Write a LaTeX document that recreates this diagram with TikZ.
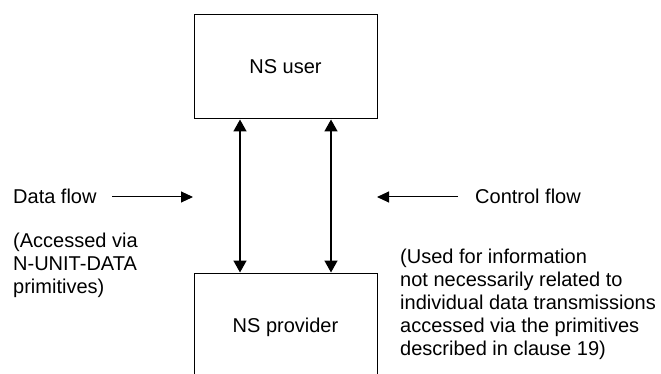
\documentclass[tikz,border=0pt]{standalone}
\usepackage{fontspec}
\setmainfont{Liberation Sans}
\usetikzlibrary{arrows.meta}
\begin{document}
\begin{tikzpicture}[x=1pt,y=-1pt,
  box/.style={draw, line width=1pt, minimum width=183pt, minimum height=104pt, inner sep=0pt, text depth=0pt, font=\fontsize{20}{23}\selectfont},
  varrow/.style={line width=1.7pt, {Triangle[width=13pt,length=12pt]}-{Triangle[width=13pt,length=12pt]}},
  harrow/.style={line width=1pt, -{Triangle[width=11pt,length=12pt]}},
  lbl/.style={inner sep=0pt, anchor=base west, align=left, font=\fontsize{20}{23}\selectfont}]
\useasboundingbox (0,0) rectangle (661,374);
\clip (0,0) rectangle (661,374);
\node[box] (user) at (285.5,67) {NS user};
\node[box] (prov) at (285.5,325) {NS provider};
\draw[varrow] ([xshift=-45.5pt]user.south) -- ([xshift=-45.5pt]prov.north);
\draw[varrow] ([xshift=45.5pt]user.south) -- ([xshift=45.5pt]prov.north);
\node[lbl] (dflow) at (13,204) {Data flow};
\coordinate (d1) at (112,197);
\coordinate (d2) at (193,197);
\draw[harrow] (d1) -- (d2);
\node[lbl] (cflow) at (475,204) {Control flow};
\coordinate (c1) at (458,197);
\coordinate (c2) at (377,197);
\draw[harrow] (c1) -- (c2);
\node[lbl] (dnote) at (13,293) {(Accessed via\\N-UNIT-DATA\\primitives)};
\node[lbl] (cnote) at (400,355) {(Used for information\\not necessarily related to\\individual data transmissions\\accessed via the primitives\\described in clause 19)};
\end{tikzpicture}
\end{document}
